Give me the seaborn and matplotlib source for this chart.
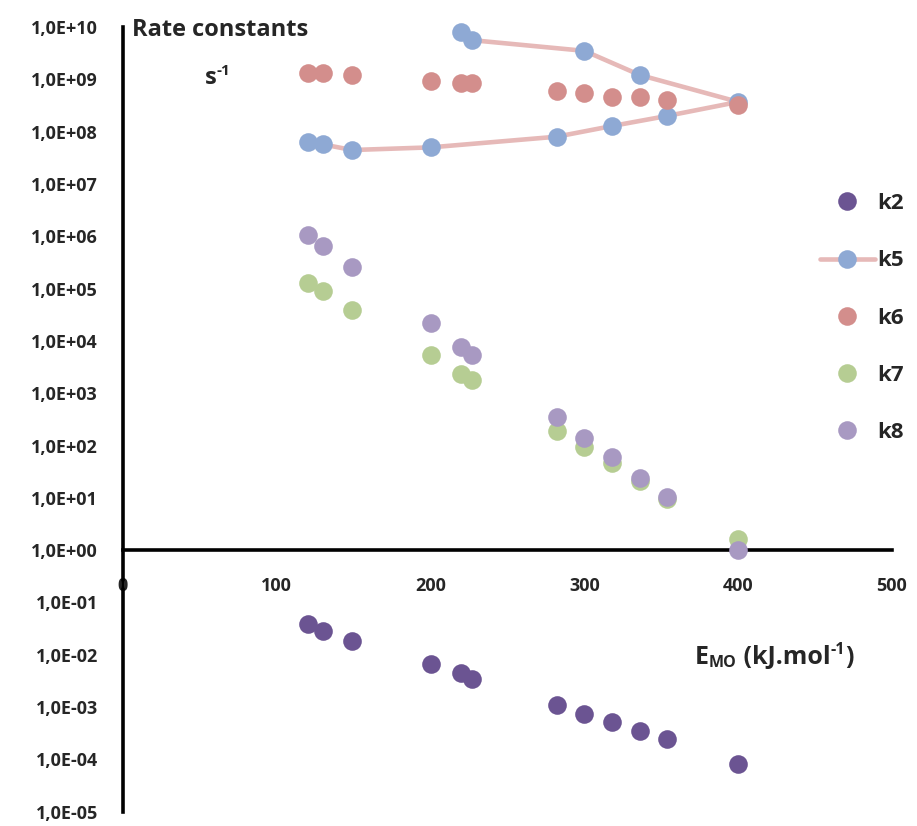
import numpy as np
import pandas as pd
import matplotlib
matplotlib.use("Agg")
import matplotlib.pyplot as plt
import seaborn as sns
from matplotlib.lines import Line2D
from matplotlib.ticker import FuncFormatter, FixedLocator, NullLocator

# E_MO (kJ/mol) and the rate constants (s-1)
e_mo = [120, 130, 149, 200, 220, 227, 282, 300, 318, 336, 354, 400]
k2 = [3.8e-2, 2.9e-2, 1.85e-2, 6.6e-3, 4.5e-3, 3.5e-3, 1.1e-3, 7.5e-4, 5.2e-4, 3.5e-4, 2.4e-4, 8.3e-5]
k5 = [6.4e7, 5.7e7, 4.45e7, 5.0e7, 7.9e9, 5.6e9, 8.0e7, 3.5e9, 1.28e8, 1.21e9, 2.0e8, 3.7e8]
k6 = [1.34e9, 1.34e9, 1.19e9, 9.4e8, 8.4e8, 8.4e8, 6.0e8, 5.4e8, 4.65e8, 4.65e8, 4.1e8, 3.2e8]
k7 = [1.29e5, 8.96e4, 3.88e4, 5.35e3, 2.3e3, 1.8e3, 191, 94, 46.7, 21.2, 9.5, 1.6]
k8 = [1.05e6, 6.6e5, 2.6e5, 2.16e4, 7.6e3, 5.3e3, 354, 140, 61, 23.8, 10.4, 1.0]
# order in which the k5 curve runs through its points (lower branch out, upper branch back)
k5_path = [0, 1, 2, 3, 6, 8, 10, 11, 9, 7, 5, 4]

x_ticks = [0, 100, 200, 300, 400, 500]
y_exps = list(range(-5, 11))
series = ["k2", "k5", "k6", "k7", "k8"]

colors = {"k2": "#6b5492", "k5": "#8ea9d4", "k6": "#d38e8c", "k7": "#b6cd93", "k8": "#a899c2"}
line_color = "#e6b9b8"

sns.set_style("white")
plt.rcParams["font.family"] = ["Open Sans", "DejaVu Sans"]
plt.rcParams["font.weight"] = "bold"

df = pd.DataFrame({"E": e_mo, "k2": k2, "k5": k5, "k6": k6, "k7": k7, "k8": k8})

fig = plt.figure(figsize=(9.17, 8.26), dpi=100)
ax = fig.add_axes([123 / 917, 1 - 811.7 / 826, (892 - 123) / 917, (811.7 - 27) / 826])

path = df.iloc[k5_path]
sns.lineplot(data=path, x="E", y="k5", sort=False, color=line_color, lw=3.3, ax=ax, zorder=1)

msize = 180
for name in series:
    sns.scatterplot(data=df, x="E", y=name, color=colors[name], s=msize, linewidth=0,
                    ax=ax, zorder=3, clip_on=False)

ax.set_yscale("log")
ax.set_ylim(1e-5, 1e10)
ax.set_xlim(0, 500)
ax.set_xlabel("")
ax.set_ylabel("")

ax.yaxis.set_major_locator(FixedLocator([10.0 ** e for e in y_exps]))
ax.yaxis.set_minor_locator(NullLocator())
ax.yaxis.set_major_formatter(FuncFormatter(lambda v, p: "1,0E%+03d" % round(np.log10(v))))
ax.set_xticks(x_ticks)
ax.set_xticklabels([str(t) for t in x_ticks])

for s in ["top", "right"]:
    ax.spines[s].set_visible(False)
ax.spines["bottom"].set_position(("data", 1))
for s in ["left", "bottom"]:
    ax.spines[s].set_linewidth(2.6)
    ax.spines[s].set_color("black")

ax.tick_params(axis="y", direction="out", length=4, width=2.6, pad=14, labelsize=13)
ax.tick_params(axis="x", direction="out", length=4, width=2.6, pad=15, labelsize=13)
for lab in ax.get_xticklabels() + ax.get_yticklabels():
    lab.set_fontweight("bold")

big = 17
small = 11
renderer = fig.canvas.get_renderer()


def chain(x_px, y_px, parts):
    # write text pieces one after another; parts are (text, size, raise_px)
    for txt, size, dy in parts:
        t = fig.text(x_px / 917, 1 - (y_px - dy) / 826, txt, fontsize=size,
                     fontweight="bold", va="baseline", ha="left")
        x_px = t.get_window_extent(renderer).x1


fig.text(132 / 917, 1 - 30 / 826, "Rate constants", fontsize=big, fontweight="bold", va="center", ha="left")
chain(205, 84, [("s", big, 0), ("-1", small, 9)])
chain(695, 664, [("E", 18, 0), ("MO", 11.5, -3), (" (kJ.mol", 18, 0), ("-1", 11.5, 10), (")", 18, 0)])

handles = []
for name in series:
    if name == "k5":
        h = Line2D([], [], color=line_color, lw=3.3, marker="o", markersize=13.4,
                   markerfacecolor=colors[name], markeredgewidth=0)
    else:
        h = Line2D([], [], color="none", marker="o", markersize=13.4,
                   markerfacecolor=colors[name], markeredgewidth=0)
    handles.append(h)
fig.legend(handles, series, loc="center left",
           bbox_to_anchor=(809 / 917, 1 - 318 / 826), frameon=False,
           handlelength=2.45, handletextpad=0.1, labelspacing=1.63, borderpad=0,
           prop={"family": "Open Sans", "weight": "bold", "size": 16})

fig.savefig("out.png", dpi=100)
